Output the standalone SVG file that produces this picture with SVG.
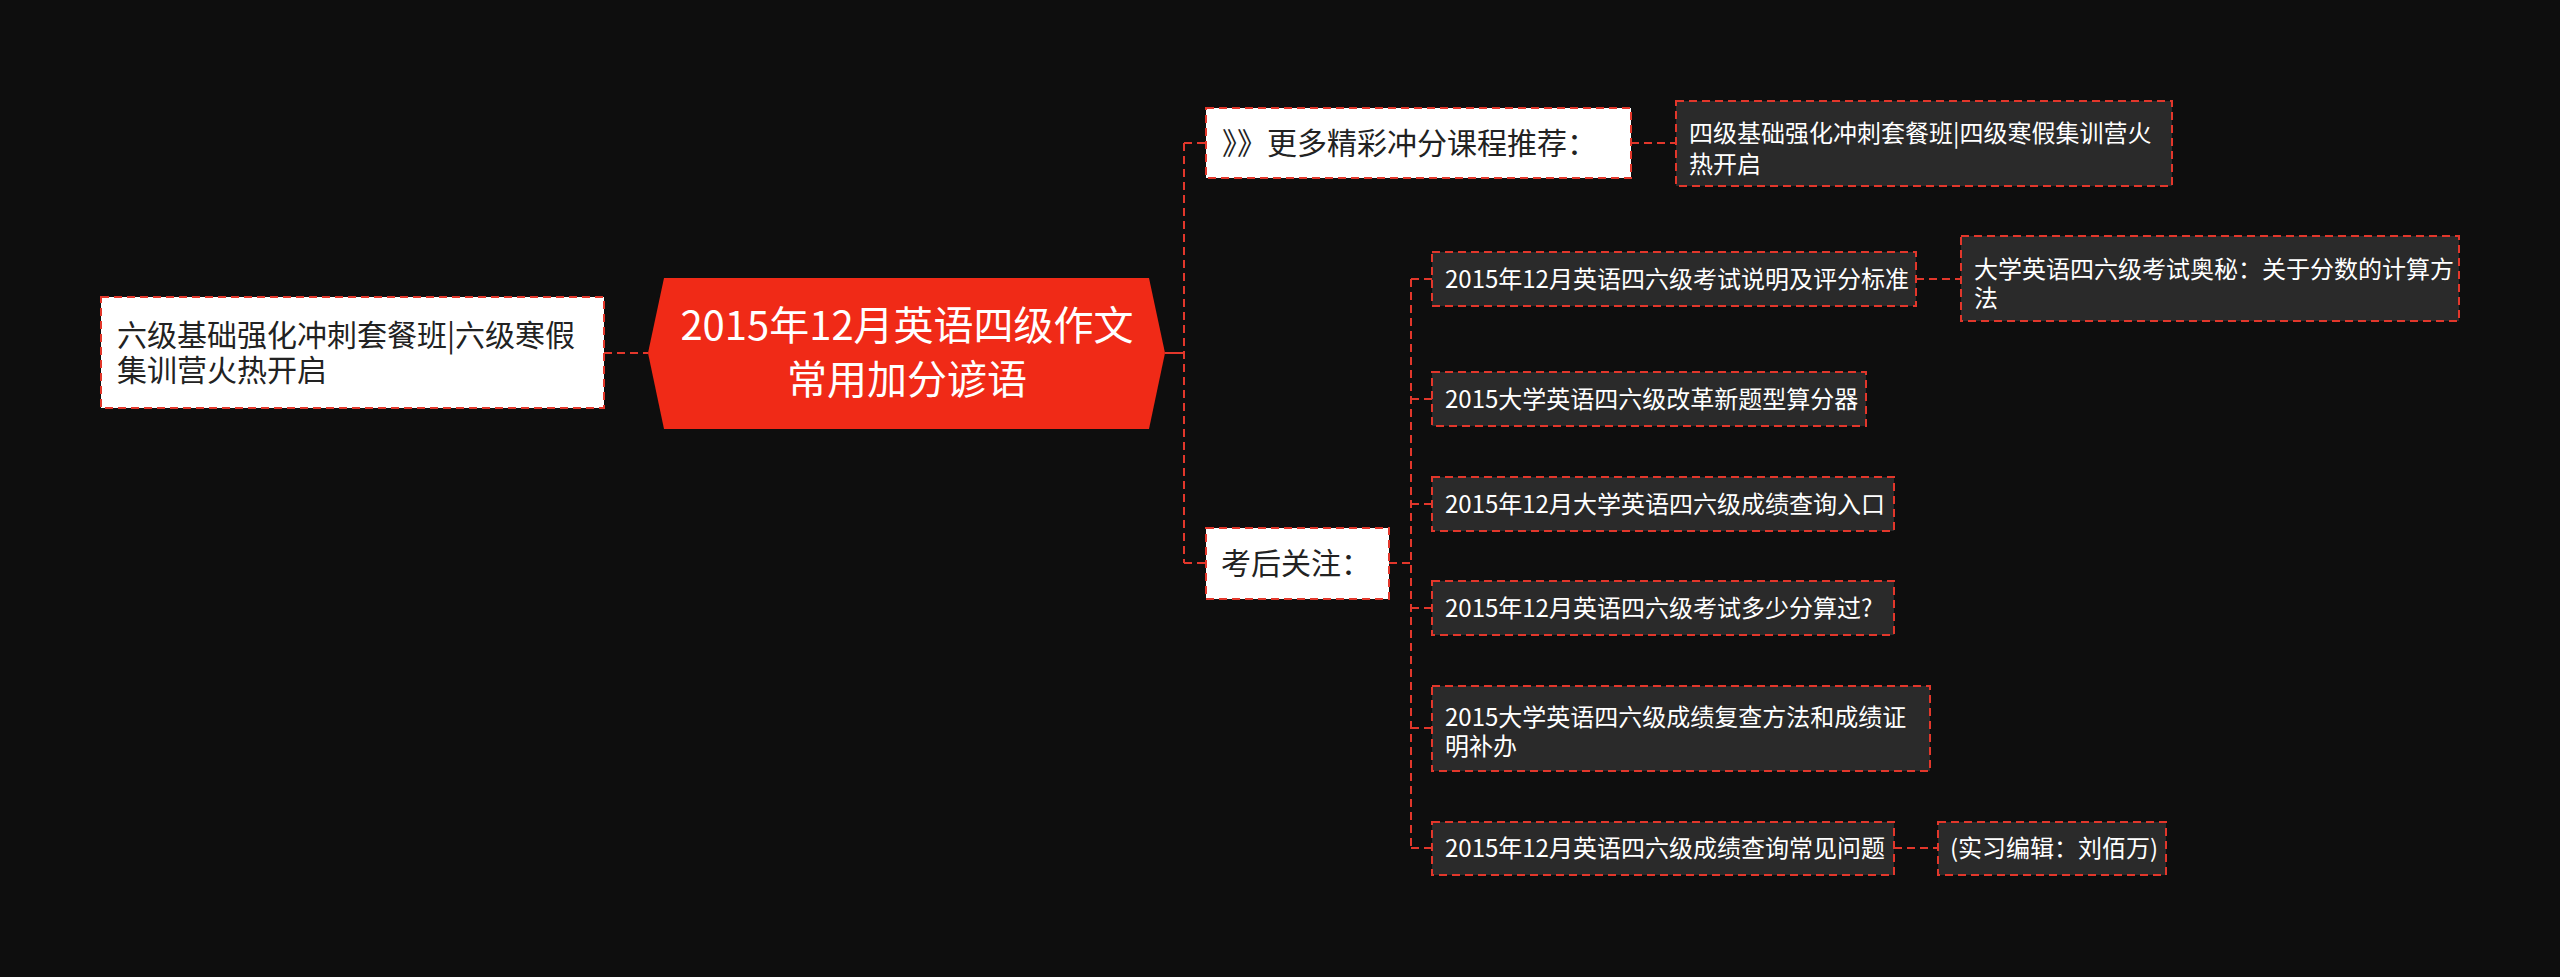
<svg xmlns="http://www.w3.org/2000/svg" width="2560" height="977" viewBox="0 0 2560 977">
<style>
.t{font-family:"Noto Sans CJK SC","Noto Sans",sans-serif;}
.l1{font-size:30px;fill:#222;}
.l2{font-size:24px;fill:#fff;}
.wb{fill:#fff;stroke:#e2372b;stroke-width:2;stroke-dasharray:8 5;}
.db{fill:#2a2a2a;stroke:#e2372b;stroke-width:2;stroke-dasharray:8 5;}
.c{fill:none;stroke:#e2372b;stroke-width:2;stroke-dasharray:8 5;}
</style>
<rect width="2560" height="977" fill="#0e0e0e"/>
<g id="connectors">
<path class="c" d="M604 353H648"/>
<path d="M1165 353H1184" stroke="#e2372b" stroke-width="2" fill="none"/>
<path class="c" d="M1184 143V563"/>
<path class="c" d="M1184 143H1206"/>
<path class="c" d="M1184 563H1206"/>
<path class="c" d="M1631 143H1676"/>
<path class="c" d="M1389 563H1411"/>
<path class="c" d="M1411 279V848"/>
<path class="c" d="M1411 279H1432"/>
<path class="c" d="M1411 399H1432"/>
<path class="c" d="M1411 504H1432"/>
<path class="c" d="M1411 608H1432"/>
<path class="c" d="M1411 728H1432"/>
<path class="c" d="M1411 848H1432"/>
<path class="c" d="M1916 279H1961"/>
<path class="c" d="M1894 848H1938"/>
</g>
<g id="root">
<polygon points="664,278 1149,278 1165,353 1149,429 664,429 648,353" fill="#f02a17"/>
<text class="t" x="907" y="340" font-size="40" fill="#fff" text-anchor="middle">2015年12月英语四级作文</text>
<text class="t" x="907" y="394" font-size="40" fill="#fff" text-anchor="middle">常用加分谚语</text>
</g>
<g id="left">
<rect class="wb" x="101" y="297" width="503" height="111"/>
<text class="t l1" x="117" y="346">六级基础强化冲刺套餐班|六级寒假</text>
<text class="t l1" x="117" y="381">集训营火热开启</text>
</g>
<g id="more">
<rect class="wb" x="1206" y="108" width="425" height="70"/>
<text class="t l1" x="1222" y="154">》》更多精彩冲分课程推荐：</text>
</g>
<g id="more-child">
<rect class="db" x="1676" y="101" width="496" height="85"/>
<text class="t l2" x="1689" y="142">四级基础强化冲刺套餐班|四级寒假集训营火</text>
<text class="t l2" x="1689" y="173">热开启</text>
</g>
<g id="after">
<rect class="wb" x="1206" y="528" width="183" height="71"/>
<text class="t l1" x="1221" y="574">考后关注：</text>
</g>
<g id="a1">
<rect class="db" x="1432" y="252" width="484" height="54"/>
<text class="t l2" x="1445" y="288">2015年12月英语四六级考试说明及评分标准</text>
</g>
<g id="a1-child">
<rect class="db" x="1961" y="236" width="498" height="85"/>
<text class="t l2" x="1974" y="278">大学英语四六级考试奥秘：关于分数的计算方</text>
<text class="t l2" x="1974" y="307">法</text>
</g>
<g id="a2">
<rect class="db" x="1432" y="372" width="434" height="54"/>
<text class="t l2" x="1445" y="408">2015大学英语四六级改革新题型算分器</text>
</g>
<g id="a3">
<rect class="db" x="1432" y="477" width="462" height="54"/>
<text class="t l2" x="1445" y="513">2015年12月大学英语四六级成绩查询入口</text>
</g>
<g id="a4">
<rect class="db" x="1432" y="581" width="462" height="54"/>
<text class="t l2" x="1445" y="617">2015年12月英语四六级考试多少分算过?</text>
</g>
<g id="a5">
<rect class="db" x="1432" y="686" width="498" height="85"/>
<text class="t l2" x="1445" y="726">2015大学英语四六级成绩复查方法和成绩证</text>
<text class="t l2" x="1445" y="755">明补办</text>
</g>
<g id="a6">
<rect class="db" x="1432" y="822" width="462" height="53"/>
<text class="t l2" x="1445" y="857">2015年12月英语四六级成绩查询常见问题</text>
</g>
<g id="a6-child">
<rect class="db" x="1938" y="822" width="228" height="53"/>
<text class="t l2" x="1950" y="857">(实习编辑：刘佰万)</text>
</g>
</svg>
